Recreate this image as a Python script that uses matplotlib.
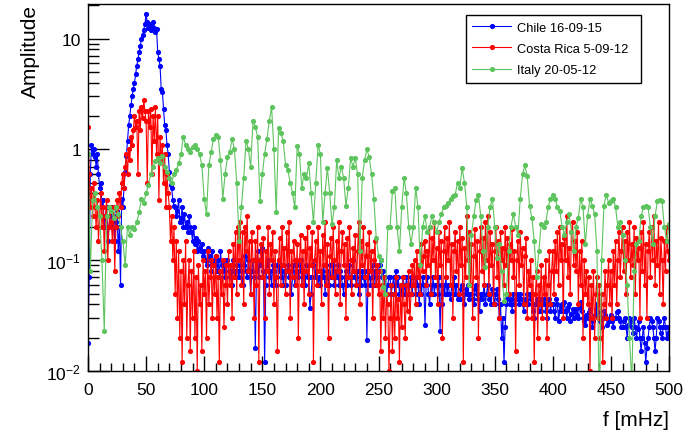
import matplotlib
matplotlib.use("Agg")
import matplotlib.pyplot as plt
from matplotlib.ticker import FixedLocator, FixedFormatter, NullFormatter, MultipleLocator

plt.rcParams["font.family"] = ["Liberation Sans", "DejaVu Sans"]
plt.rcParams["mathtext.default"] = "regular"

# frequency grids in mHz
FREQ_FINE = list(range(0, 501))      # Chile, Costa Rica: 1 mHz steps
FREQ_COARSE = list(range(0, 501, 2))  # Italy: 2 mHz steps

CHILE = [
    0.018, 0.07, 0.6, 1.1, 0.9, 1.0, 0.85, 0.7, 0.9, 0.6,
    0.45, 0.5, 0.3, 0.35, 0.2, 0.25, 0.3, 0.15, 0.2, 0.25,
    0.3, 0.2, 0.25, 0.15, 0.22, 0.28, 0.12, 0.2, 0.06, 0.36,
    0.3, 0.45, 0.63, 0.88, 1.2, 1.65, 2.0, 2.5, 3.0, 3.5,
    4.0, 4.8, 5.7, 6.5, 7.5, 8.5, 10.0, 10.7, 12.0, 13.5,
    16.5, 14.0, 12.5, 13.5, 12.0, 13.0, 14.0, 12.5, 11.4, 12.2,
    7.5, 6.6, 5.7, 3.5, 3.3, 2.3, 1.65, 1.5, 1.1, 0.9,
    0.63, 0.48, 0.45, 0.35, 0.31, 0.3, 0.25, 0.28, 0.35, 0.22,
    0.24, 0.3, 0.2, 0.26, 0.2, 0.22, 0.18, 0.25, 0.2, 0.18,
    0.15, 0.2, 0.14, 0.16, 0.12, 0.15, 0.13, 0.12, 0.14, 0.11,
    0.12, 0.1, 0.09, 0.13, 0.1, 0.11, 0.08, 0.12, 0.09, 0.1,
    0.11, 0.08, 0.1, 0.07, 0.12, 0.09, 0.08, 0.1, 0.07, 0.09,
    0.1, 0.08, 0.07, 0.09, 0.06, 0.1, 0.08, 0.07, 0.09, 0.08,
    0.07, 0.1, 0.08, 0.06, 0.09, 0.11, 0.08, 0.07, 0.1, 0.08,
    0.05, 0.08, 0.1, 0.07, 0.016, 0.08, 0.12, 0.07, 0.1, 0.09,
    0.13, 0.08, 0.012, 0.06, 0.09, 0.1, 0.07, 0.08, 0.06, 0.09,
    0.08, 0.07, 0.06, 0.09, 0.1, 0.08, 0.07, 0.09, 0.06, 0.08,
    0.06, 0.08, 0.09, 0.07, 0.08, 0.05, 0.07, 0.09, 0.06, 0.08,
    0.09, 0.07, 0.08, 0.1, 0.06, 0.08, 0.07, 0.06, 0.09, 0.07,
    0.07, 0.037, 0.05, 0.07, 0.09, 0.1, 0.07, 0.08, 0.06, 0.07,
    0.06, 0.08, 0.07, 0.09, 0.05, 0.07, 0.08, 0.06, 0.09, 0.07,
    0.07, 0.09, 0.06, 0.08, 0.07, 0.09, 0.06, 0.08, 0.07, 0.06,
    0.05, 0.07, 0.08, 0.06, 0.07, 0.09, 0.06, 0.07, 0.1, 0.08,
    0.07, 0.06, 0.08, 0.05, 0.07, 0.06, 0.08, 0.07, 0.06, 0.08,
    0.019, 0.07, 0.08, 0.06, 0.07, 0.09, 0.06, 0.08, 0.06, 0.07,
    0.08, 0.09, 0.1, 0.07, 0.08, 0.06, 0.07, 0.05, 0.06, 0.07,
    0.07, 0.05, 0.06, 0.07, 0.05, 0.08, 0.06, 0.07, 0.05, 0.06,
    0.05, 0.07, 0.06, 0.05, 0.07, 0.06, 0.05, 0.06, 0.07, 0.05,
    0.07, 0.06, 0.05, 0.07, 0.06, 0.04, 0.06, 0.05, 0.07, 0.06,
    0.026, 0.06, 0.07, 0.05, 0.04, 0.06, 0.05, 0.07, 0.05, 0.06,
    0.06, 0.05, 0.07, 0.023, 0.06, 0.04, 0.06, 0.05, 0.07, 0.05,
    0.06, 0.05, 0.045, 0.06, 0.05, 0.07, 0.05, 0.06, 0.045, 0.05,
    0.045, 0.055, 0.06, 0.05, 0.04, 0.055, 0.05, 0.06, 0.045, 0.05,
    0.05, 0.045, 0.04, 0.055, 0.06, 0.05, 0.045, 0.035, 0.05, 0.045,
    0.05, 0.06, 0.04, 0.05, 0.06, 0.045, 0.05, 0.04, 0.055, 0.05,
    0.04, 0.05, 0.055, 0.045, 0.03, 0.04, 0.02, 0.03, 0.012, 0.025,
    0.04, 0.045, 0.05, 0.04, 0.045, 0.035, 0.05, 0.04, 0.045, 0.05,
    0.045, 0.04, 0.05, 0.045, 0.04, 0.035, 0.045, 0.04, 0.05, 0.04,
    0.05, 0.045, 0.04, 0.035, 0.03, 0.04, 0.045, 0.04, 0.035, 0.045,
    0.035, 0.04, 0.045, 0.04, 0.035, 0.03, 0.04, 0.045, 0.035, 0.04,
    0.04, 0.035, 0.03, 0.045, 0.04, 0.028, 0.035, 0.038, 0.04, 0.035,
    0.042, 0.035, 0.03, 0.038, 0.04, 0.028, 0.033, 0.036, 0.03, 0.035,
    0.036, 0.032, 0.03, 0.038, 0.042, 0.035, 0.03, 0.028, 0.026, 0.032,
    0.03, 0.034, 0.036, 0.03, 0.025, 0.028, 0.032, 0.036, 0.04, 0.034,
    0.03, 0.028, 0.025, 0.03, 0.035, 0.032, 0.03, 0.026, 0.028, 0.03,
    0.032, 0.028, 0.025, 0.03, 0.03, 0.034, 0.035, 0.03, 0.028, 0.025,
    0.025, 0.028, 0.03, 0.025, 0.02, 0.026, 0.03, 0.028, 0.025, 0.022,
    0.03, 0.025, 0.02, 0.024, 0.028, 0.02, 0.015, 0.02, 0.025, 0.018,
    0.012, 0.016, 0.02, 0.025, 0.03, 0.028, 0.025, 0.02, 0.015, 0.02,
    0.03, 0.028, 0.025, 0.022, 0.02, 0.025, 0.03, 0.025, 0.02, 0.022,
    0.025,
]

COSTA_RICA = [
    1.6, 0.6, 0.3, 0.45, 0.25, 0.5, 0.3, 0.2, 0.35, 0.15,
    0.25, 0.4, 0.2, 0.3, 0.12, 0.25, 0.35, 0.1, 0.2, 0.3,
    0.22, 0.15, 0.3, 0.08, 0.2, 0.35, 0.25, 0.4, 0.3, 0.5,
    0.6, 0.45, 0.7, 0.9, 0.6, 1.0, 0.8, 1.3, 1.1, 1.5,
    2.0, 1.6, 1.8, 0.6, 2.2, 1.5, 2.4, 1.9, 2.8, 2.2,
    1.8, 0.5, 2.2, 1.6, 2.3, 0.6, 2.0, 1.2, 2.4, 0.9,
    2.0, 0.35, 1.3, 0.8, 1.1, 0.5, 0.9, 0.3, 0.6, 0.4,
    0.3, 0.15, 0.25, 0.1, 0.2, 0.05, 0.15, 0.03, 0.12, 0.02,
    0.08, 0.012, 0.1, 0.04, 0.15, 0.02, 0.06, 0.1, 0.015, 0.08,
    0.03, 0.12, 0.02, 0.07, 0.01, 0.09, 0.04, 0.06, 0.015, 0.1,
    0.05, 0.08, 0.02, 0.12, 0.04, 0.07, 0.1, 0.03, 0.09, 0.05,
    0.11, 0.03, 0.07, 0.012, 0.08, 0.05, 0.1, 0.025, 0.06, 0.09,
    0.04, 0.12, 0.06, 0.09, 0.03, 0.14, 0.07, 0.18, 0.05, 0.2,
    0.1, 0.22, 0.06, 0.18, 0.04, 0.2, 0.12, 0.25, 0.08, 0.15,
    0.05, 0.18, 0.1, 0.03, 0.15, 0.06, 0.2, 0.012, 0.1, 0.14,
    0.07, 0.16, 0.03, 0.12, 0.08, 0.2, 0.05, 0.14, 0.1, 0.18,
    0.04, 0.12, 0.07, 0.015, 0.1, 0.16, 0.06, 0.2, 0.09, 0.13,
    0.05, 0.18, 0.08, 0.22, 0.03, 0.12, 0.07, 0.15, 0.1, 0.06,
    0.14, 0.02, 0.1, 0.17, 0.06, 0.12, 0.04, 0.16, 0.08, 0.2,
    0.05, 0.13, 0.09, 0.18, 0.012, 0.1, 0.15, 0.06, 0.2, 0.08,
    0.12, 0.04, 0.17, 0.09, 0.22, 0.06, 0.14, 0.02, 0.11, 0.16,
    0.07, 0.2, 0.1, 0.05, 0.15, 0.08, 0.22, 0.04, 0.12, 0.18,
    0.09, 0.14, 0.03, 0.16, 0.07, 0.2, 0.1, 0.05, 0.13, 0.08,
    0.17, 0.06, 0.12, 0.22, 0.04, 0.15, 0.09, 0.2, 0.07, 0.11,
    0.14, 0.05, 0.18, 0.08, 0.12, 0.03, 0.1, 0.15, 0.06, 0.09,
    0.05, 0.08, 0.015, 0.06, 0.03, 0.07, 0.02, 0.05, 0.04, 0.01,
    0.03, 0.06, 0.015, 0.05, 0.02, 0.07, 0.03, 0.045, 0.012, 0.06,
    0.025, 0.07, 0.04, 0.02, 0.06, 0.035, 0.08, 0.03, 0.05, 0.09,
    0.06, 0.1, 0.04, 0.12, 0.07, 0.09, 0.05, 0.14, 0.08, 0.11,
    0.15, 0.06, 0.12, 0.09, 0.2, 0.05, 0.16, 0.1, 0.22, 0.07,
    0.13, 0.04, 0.18, 0.09, 0.15, 0.02, 0.12, 0.2, 0.07, 0.16,
    0.1, 0.22, 0.06, 0.14, 0.03, 0.12, 0.18, 0.08, 0.15, 0.05,
    0.2, 0.09, 0.16, 0.012, 0.13, 0.07, 0.25, 0.1, 0.18, 0.06,
    0.14, 0.03, 0.11, 0.19, 0.07, 0.15, 0.02, 0.12, 0.2, 0.08,
    0.16, 0.06, 0.22, 0.1, 0.25, 0.05, 0.18, 0.09, 0.14, 0.04,
    0.12, 0.2, 0.07, 0.15, 0.03, 0.18, 0.1, 0.13, 0.06, 0.2,
    0.09, 0.16, 0.05, 0.14, 0.1, 0.19, 0.07, 0.12, 0.015, 0.1,
    0.15, 0.06, 0.18, 0.09, 0.13, 0.04, 0.11, 0.16, 0.03, 0.08,
    0.06, 0.1, 0.03, 0.07, 0.012, 0.05, 0.08, 0.02, 0.06, 0.04,
    0.09, 0.03, 0.07, 0.05, 0.1, 0.02, 0.06, 0.12, 0.04, 0.08,
    0.12, 0.05, 0.15, 0.08, 0.18, 0.06, 0.2, 0.1, 0.14, 0.03,
    0.16, 0.1, 0.25, 0.07, 0.13, 0.05, 0.18, 0.22, 0.09, 0.15,
    0.08, 0.18, 0.04, 0.12, 0.06, 0.15, 0.02, 0.1, 0.05, 0.08,
    0.04, 0.07, 0.01, 0.06, 0.03, 0.08, 0.02, 0.05, 0.07, 0.03,
    0.06, 0.02, 0.05, 0.012, 0.04, 0.08, 0.03, 0.06, 0.1, 0.04,
    0.08, 0.03, 0.12, 0.06, 0.15, 0.04, 0.1, 0.18, 0.07, 0.12,
    0.2, 0.08, 0.15, 0.05, 0.18, 0.1, 0.22, 0.07, 0.14, 0.09,
    0.2, 0.05, 0.16, 0.1, 0.13, 0.03, 0.18, 0.08, 0.22, 0.06,
    0.14, 0.03, 0.12, 0.18, 0.07, 0.2, 0.1, 0.25, 0.06, 0.15,
    0.09, 0.22, 0.05, 0.16, 0.1, 0.04, 0.15, 0.08, 0.2, 0.12,
    0.1,
]

ITALY = [
    0.9, 0.08, 0.35, 0.4, 0.3,
    0.25, 0.1, 0.023, 0.25, 0.3,
    0.28, 0.24, 0.3, 0.26, 0.2,
    0.15, 0.09, 0.2, 0.17, 0.2,
    0.19, 0.22, 0.27, 0.36, 0.33,
    0.4, 0.48, 0.6, 0.7, 0.78,
    0.83, 0.75, 0.88, 0.7, 0.62,
    0.55, 0.5, 0.6, 0.65, 0.75,
    0.9, 1.3, 1.1, 1.0, 0.95,
    1.05, 1.1, 1.0, 0.9, 0.72,
    0.36, 0.26, 0.72, 0.95, 1.25,
    1.35, 1.3, 0.8, 0.36, 0.6,
    0.85, 0.95, 1.25, 1.0, 0.5,
    0.15, 0.3, 0.55, 1.2, 1.0,
    0.7, 1.8, 1.6, 1.3, 0.34,
    0.6, 0.9, 1.25, 1.8, 2.4,
    1.0, 0.27, 1.55, 1.4, 1.2,
    0.72, 0.65, 0.5, 0.4, 0.3,
    1.07, 0.9, 0.45, 0.6, 0.55,
    0.75, 0.4, 0.22, 0.5, 1.1,
    0.9, 0.22, 0.4, 0.68, 0.4,
    0.21, 0.3, 0.8, 0.55, 0.7,
    0.55, 0.31, 0.45, 0.83, 0.7,
    0.83, 0.6, 0.12, 0.55, 0.8,
    1.0, 0.85, 0.6, 0.36, 0.16,
    0.11, 0.1, 0.057, 0.05, 0.2,
    0.2, 0.42, 0.45, 0.2, 0.12,
    0.3, 0.55, 0.4, 0.2, 0.14,
    0.2, 0.45, 0.3, 0.09, 0.2,
    0.25, 0.18, 0.2, 0.25, 0.22,
    0.18, 0.22, 0.26, 0.3, 0.31,
    0.33, 0.36, 0.38, 0.39, 0.5,
    0.45, 0.68, 0.5, 0.3, 0.06,
    0.17, 0.25, 0.35, 0.39, 0.25,
    0.12, 0.086, 0.2, 0.3, 0.36,
    0.2, 0.105, 0.14, 0.08, 0.043,
    0.05, 0.12, 0.2, 0.26, 0.2,
    0.17, 0.36, 0.6, 0.72, 0.57,
    0.31, 0.24, 0.15, 0.07, 0.12,
    0.21, 0.2, 0.22, 0.3, 0.36,
    0.39, 0.36, 0.3, 0.28, 0.2,
    0.17, 0.22, 0.26, 0.18, 0.12,
    0.2, 0.24, 0.36, 0.3, 0.14,
    0.25, 0.36, 0.31, 0.26, 0.12,
    0.005, 0.1, 0.31, 0.39, 0.33,
    0.34, 0.36, 0.3, 0.2, 0.22,
    0.17, 0.1, 0.06, 0.02, 0.008,
    0.08, 0.14, 0.15, 0.25, 0.3,
    0.31, 0.3, 0.2, 0.14, 0.25,
    0.34, 0.35, 0.34, 0.2, 0.15,
    0.21,
]

SERIES = [
    ("Chile 16-09-15", FREQ_FINE, CHILE, "#0000ff"),
    ("Costa Rica 5-09-12", FREQ_FINE, COSTA_RICA, "#ff0000"),
    ("Italy 20-05-12", FREQ_COARSE, ITALY, "#5ec45e"),
]

W, H = 695, 435
fig = plt.figure(figsize=(W / 100, H / 100), dpi=100)
ax = fig.add_axes([88 / W, 1 - 372 / H, (669 - 88) / W, (372 - 5) / H])

for name, freq, values, color in SERIES:
    ax.plot(freq, values, color=color, lw=0.8, marker="o", ms=2.7,
            mec=color, mfc=color, label=name)

ax.set_yscale("log")
ax.set_xlim(0, 500)
ax.set_ylim(0.01, 20.5)

ax.xaxis.set_major_locator(MultipleLocator(50))
ax.xaxis.set_minor_locator(MultipleLocator(10))
ax.yaxis.set_major_locator(FixedLocator([0.01, 0.1, 1, 10]))
ax.yaxis.set_major_formatter(FixedFormatter(["$10^{-2}$", "$10^{-1}$", "1", "10"]))
minors = [m * 10.0 ** e for e in range(-2, 2) for m in range(2, 10)]
ax.yaxis.set_minor_locator(FixedLocator(minors))
ax.yaxis.set_minor_formatter(NullFormatter())

ax.tick_params(which="both", direction="in", top=False, right=False,
               labelsize=12.5, width=1, color="black")
ax.tick_params(axis="x", which="major", length=11, pad=8)
ax.tick_params(axis="x", which="minor", length=5.5)
ax.tick_params(axis="y", which="major", length=15, pad=5)
ax.tick_params(axis="y", which="minor", length=8)
for sp in ax.spines.values():
    sp.set_linewidth(1)

fig.text(30 / W, 1 - 5 / H, "Amplitude", rotation=90, ha="center", va="top",
         fontsize=15)
fig.text(669 / W, 1 - 421 / H, "f [mHz]", ha="right", va="center", fontsize=15)

leg = ax.legend(loc="upper left",
                bbox_to_anchor=(466 / W, 1 - 88 / H, 175 / W, 72 / H),
                bbox_transform=fig.transFigure, mode="expand", fontsize=9.3,
                frameon=True, fancybox=False, edgecolor="black", framealpha=1,
                borderaxespad=0, numpoints=1, handlelength=2.95,
                handletextpad=0.47, labelspacing=0.72, borderpad=0.5)
leg.get_frame().set_linewidth(1)

fig.savefig("out.png", dpi=100)
